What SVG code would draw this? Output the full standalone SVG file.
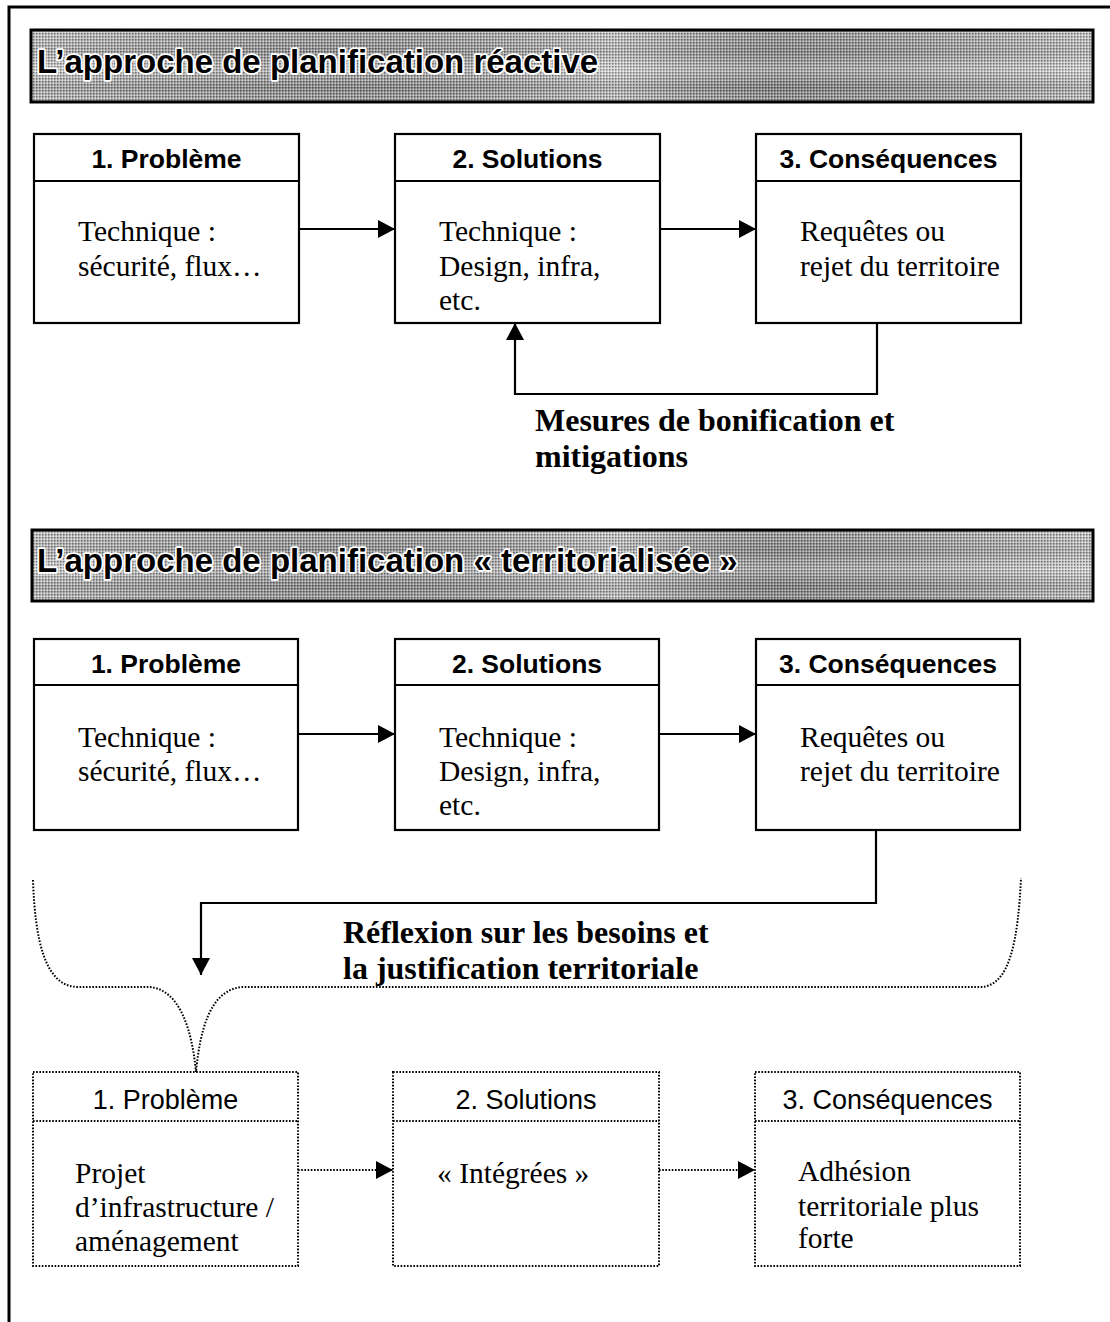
<svg xmlns="http://www.w3.org/2000/svg" width="1110" height="1322" viewBox="0 0 1110 1322">
<style>
.box{fill:#fff;stroke:#000;stroke-width:2.2}
.dbox{fill:#fff;stroke:#000;stroke-width:2;stroke-dasharray:1.6 1.6}
.hd{font-family:"Liberation Sans",Arial,sans-serif;font-weight:bold;font-size:26.5px;text-anchor:middle}
.hdr{font-family:"Liberation Sans",Arial,sans-serif;font-size:27px;text-anchor:middle}
.bd{font-family:"Liberation Serif","Times New Roman",serif;font-size:29.5px}
.lbl{font-family:"Liberation Serif","Times New Roman",serif;font-weight:bold;font-size:32px}
.ban{font-family:"Liberation Sans",Arial,sans-serif;font-weight:bold;font-size:33px;fill:#000;stroke:#fff;stroke-width:3.5;paint-order:stroke;stroke-linejoin:round}
.ln{fill:none;stroke:#000;stroke-width:2.2}
.dln{fill:none;stroke:#000;stroke-width:2;stroke-dasharray:1.6 1.6}
</style>
<defs>
<marker id="ah" markerWidth="17" markerHeight="18" refX="17" refY="9" orient="auto" markerUnits="userSpaceOnUse">
<path d="M0,0 L17,9 L0,18 Z" fill="#000"/>
</marker>
<pattern id="ht" width="3" height="3" patternUnits="userSpaceOnUse">
<rect x="0" y="0" width="1.5" height="1.5" fill="#000" fill-opacity="0.4"/>
<rect x="1.5" y="1.5" width="1.5" height="1.5" fill="#fff" fill-opacity="0.5"/>
</pattern>
<linearGradient id="g1" x1="0" y1="0" x2="0" y2="1">
<stop offset="0" stop-color="#bdbdbd"/>
<stop offset="0.3" stop-color="#a0a0a0"/>
<stop offset="0.55" stop-color="#cacaca"/>
<stop offset="0.8" stop-color="#959595"/>
<stop offset="1" stop-color="#b8b8b8"/>
</linearGradient>
<linearGradient id="g2" x1="0" y1="0" x2="1" y2="0">
<stop offset="0" stop-color="#fff" stop-opacity="0.2"/>
<stop offset="0.3" stop-color="#000" stop-opacity="0.1"/>
<stop offset="0.55" stop-color="#fff" stop-opacity="0.25"/>
<stop offset="0.7" stop-color="#000" stop-opacity="0.15"/>
<stop offset="1" stop-color="#fff" stop-opacity="0.25"/>
</linearGradient>
</defs>
<rect width="1110" height="1322" fill="#fff"/>
<!-- outer frame -->
<path d="M9,1322 L9,7 L1110,7" fill="none" stroke="#000" stroke-width="3"/>

<g id="banner1">
<rect x="31" y="30" width="1062" height="72" fill="url(#g1)"/>
<rect x="31" y="30" width="1062" height="72" fill="url(#g2)"/>
<rect x="31" y="30" width="1062" height="72" fill="url(#ht)"/>
<rect x="31" y="30" width="1062" height="72" fill="none" stroke="#000" stroke-width="3"/>
<text class="ban" x="37" y="73">L’approche de planification réactive</text>
</g>

<g id="r1b1">
<rect class="box" x="34" y="134" width="265" height="189"/>
<line class="ln" x1="34" y1="181" x2="299" y2="181"/>
<text class="hd" x="166.5" y="168">1. Problème</text>
<text class="bd" x="78" y="241">Technique :</text>
<text class="bd" x="78" y="276">sécurité, flux…</text>
</g>
<g id="r1b2">
<rect class="box" x="395" y="134" width="265" height="189"/>
<line class="ln" x1="395" y1="181" x2="660" y2="181"/>
<text class="hd" x="527.5" y="168">2. Solutions</text>
<text class="bd" x="439" y="241">Technique :</text>
<text class="bd" x="439" y="276">Design, infra,</text>
<text class="bd" x="439" y="310">etc.</text>
</g>
<g id="r1b3">
<rect class="box" x="756" y="134" width="265" height="189"/>
<line class="ln" x1="756" y1="181" x2="1021" y2="181"/>
<text class="hd" x="888.5" y="168">3. Conséquences</text>
<text class="bd" x="800" y="241">Requêtes ou</text>
<text class="bd" x="800" y="276">rejet du territoire</text>
</g>

<g id="banner2">
<rect x="32" y="530" width="1061" height="71" fill="url(#g1)"/>
<rect x="32" y="530" width="1061" height="71" fill="url(#g2)"/>
<rect x="32" y="530" width="1061" height="71" fill="url(#ht)"/>
<rect x="32" y="530" width="1061" height="71" fill="none" stroke="#000" stroke-width="3"/>
<text class="ban" x="37" y="572">L’approche de planification « territorialisée »</text>
</g>

<g id="r2b1">
<rect class="box" x="34" y="639" width="264" height="191"/>
<line class="ln" x1="34" y1="685" x2="298" y2="685"/>
<text class="hd" x="166" y="673">1. Problème</text>
<text class="bd" x="78" y="747">Technique :</text>
<text class="bd" x="78" y="781">sécurité, flux…</text>
</g>
<g id="r2b2">
<rect class="box" x="395" y="639" width="264" height="191"/>
<line class="ln" x1="395" y1="685" x2="659" y2="685"/>
<text class="hd" x="527" y="673">2. Solutions</text>
<text class="bd" x="439" y="747">Technique :</text>
<text class="bd" x="439" y="781">Design, infra,</text>
<text class="bd" x="439" y="815">etc.</text>
</g>
<g id="r2b3">
<rect class="box" x="756" y="639" width="264" height="191"/>
<line class="ln" x1="756" y1="685" x2="1020" y2="685"/>
<text class="hd" x="888" y="673">3. Conséquences</text>
<text class="bd" x="800" y="747">Requêtes ou</text>
<text class="bd" x="800" y="781">rejet du territoire</text>
</g>

<g id="r3b1">
<rect class="dbox" x="33" y="1072" width="265" height="194"/>
<line class="dln" x1="33" y1="1121" x2="298" y2="1121"/>
<text class="hdr" x="165.5" y="1109">1. Problème</text>
<text class="bd" x="75" y="1183">Projet</text>
<text class="bd" x="75" y="1217">d’infrastructure /</text>
<text class="bd" x="75" y="1251">aménagement</text>
</g>
<g id="r3b2">
<rect class="dbox" x="393" y="1072" width="266" height="194"/>
<line class="dln" x1="393" y1="1121" x2="659" y2="1121"/>
<text class="hdr" x="526" y="1109">2. Solutions</text>
<text class="bd" x="437" y="1183">« Intégrées »</text>
</g>
<g id="r3b3">
<rect class="dbox" x="755" y="1072" width="265" height="194"/>
<line class="dln" x1="755" y1="1121" x2="1020" y2="1121"/>
<text class="hdr" x="887.5" y="1109">3. Conséquences</text>
<text class="bd" x="798" y="1181">Adhésion</text>
<text class="bd" x="798" y="1216">territoriale plus</text>
<text class="bd" x="798" y="1248">forte</text>
</g>

<g id="labels">
<text class="lbl" x="535" y="431">Mesures de bonification et</text>
<text class="lbl" x="535" y="467">mitigations</text>
<text class="lbl" x="343" y="943">Réflexion sur les besoins et</text>
<text class="lbl" x="343" y="979">la justification territoriale</text>
</g>

<g id="connectors">
<line class="ln" x1="299" y1="229" x2="395" y2="229" marker-end="url(#ah)"/>
<line class="ln" x1="660" y1="229" x2="756" y2="229" marker-end="url(#ah)"/>
<path class="ln" d="M877,323 L877,394 L515,394 L515,323" marker-end="url(#ah)"/>
<line class="ln" x1="298" y1="734" x2="395" y2="734" marker-end="url(#ah)"/>
<line class="ln" x1="659" y1="734" x2="756" y2="734" marker-end="url(#ah)"/>
<path class="ln" d="M876,830 L876,903 L201,903 L201,975" marker-end="url(#ah)"/>
<line class="dln" x1="298" y1="1170" x2="393" y2="1170" marker-end="url(#ah)"/>
<line class="dln" x1="659" y1="1170" x2="755" y2="1170" marker-end="url(#ah)"/>
<path class="dln" d="M33,880 C35,940 45,987 78,987 L150,987 C180,990 192,1030 196,1072 C200,1030 210,990 242,987 L980,987 C1010,987 1018,940 1021,878"/>
</g>
</svg>
